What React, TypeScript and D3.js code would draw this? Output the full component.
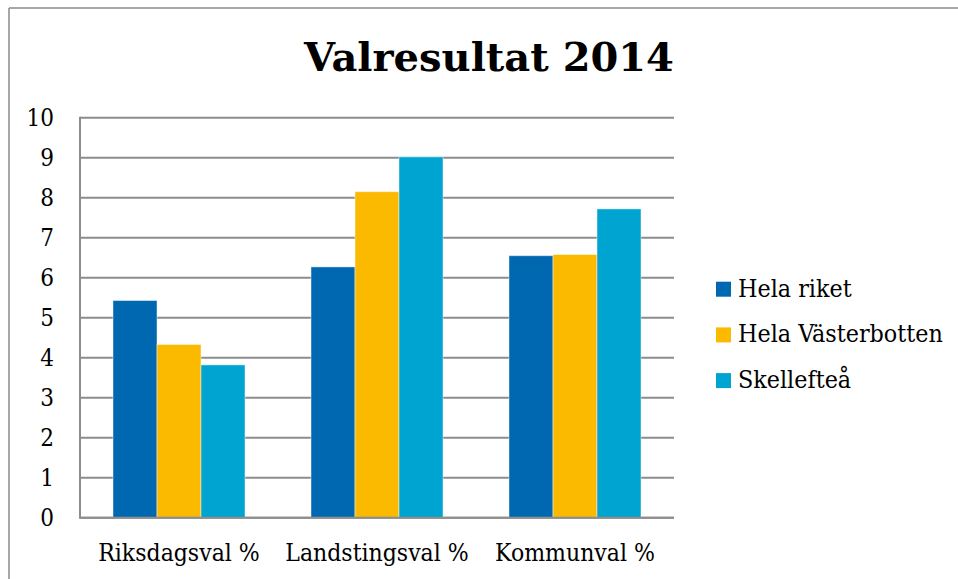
import React from "react";
import * as d3 from "d3";

const categories = ["Riksdagsval %", "Landstingsval %", "Kommunval %"];
const seriesNames = ["Hela riket", "Hela Västerbotten", "Skellefteå"];
const helaRiket = [5.43, 6.27, 6.55];
const helaVasterbotten = [4.33, 8.15, 6.58];
const skelleftea = [3.82, 9.02, 7.72];
const seriesValues = [helaRiket, helaVasterbotten, skelleftea];
const colors = ["#0068B0", "#FBBA00", "#00A4D1"];
const yTicks = [0, 1, 2, 3, 4, 5, 6, 7, 8, 9, 10];
const title = "Valresultat 2014";

const W = 958;
const H = 579;
const plot = { left: 80, right: 674, top: 117.7, bottom: 517.7 };
const labelFont = "'DejaVu Serif Condensed', 'Liberation Serif', serif";

export default function App() {
  const y = d3.scaleLinear().domain([0, 10]).range([plot.bottom, plot.top]);
  const x = d3.scaleBand<string>().domain(categories).range([plot.left, plot.right]).paddingInner(0).paddingOuter(0);
  const xs = d3
    .scaleBand<string>()
    .domain(seriesNames)
    .range([0, x.bandwidth()])
    .paddingInner(0)
    .paddingOuter(0.75);
  const grid = "#8d8d8d";

  return (
    <svg
      width={W}
      height={H}
      style={{ position: "absolute", left: 0, top: 0, background: "#fff" }}
    >
      <line x1={9} y1={8} x2={9} y2={H} stroke="#8a8a8a" strokeWidth={1.5} />
      <line x1={9} y1={8} x2={W} y2={8} stroke="#8a8a8a" strokeWidth={1.5} />

      <text
        x={489}
        y={70.7}
        textAnchor="middle"
        fontFamily="'DejaVu Serif', serif"
        fontWeight="bold"
        fontSize={40}
        fill="#000"
      >
        {title}
      </text>

      {yTicks.map((t) => (
        <line
          key={"g" + t}
          x1={plot.left}
          x2={plot.right}
          y1={y(t)}
          y2={y(t)}
          stroke={grid}
          strokeWidth={2}
        />
      ))}
      <line x1={plot.left} x2={plot.left} y1={plot.top - 1} y2={plot.bottom + 1} stroke={grid} strokeWidth={2} />

      {categories.map((c, ci) =>
        seriesNames.map((s, si) => {
          const v = seriesValues[si][ci];
          const bx = (x(c) as number) + (xs(s) as number);
          return (
            <rect
              key={c + s}
              x={bx}
              y={y(v)}
              width={xs.bandwidth()}
              height={y(0) - y(v)}
              fill={colors[si]}
              stroke="rgba(255,255,255,0.45)"
              strokeWidth={1}
            />
          );
        })
      )}
      <line x1={plot.left} x2={plot.right} y1={y(0)} y2={y(0)} stroke={grid} strokeWidth={2} />

      {yTicks.map((t) => (
        <text
          key={"t" + t}
          x={54}
          y={y(t)}
          dy="0.35em"
          textAnchor="end"
          fontFamily={labelFont}
          fontSize={24}
          fill="#000"
        >
          {t}
        </text>
      ))}

      {categories.map((c) => (
        <text
          key={"x" + c}
          x={(x(c) as number) + x.bandwidth() / 2}
          y={561}
          textAnchor="middle"
          fontFamily={labelFont}
          fontSize={24.5}
          fill="#000"
        >
          {c}
        </text>
      ))}

      {seriesNames.map((s, i) => (
        <g key={"l" + s} transform={`translate(716, ${281.7 + i * 45.7})`}>
          <rect x={0} y={0} width={15} height={15} fill={colors[i]} />
          <text x={22} y={15} fontFamily={labelFont} fontSize={24.8} fill="#000">
            {s}
          </text>
        </g>
      ))}
    </svg>
  );
}
